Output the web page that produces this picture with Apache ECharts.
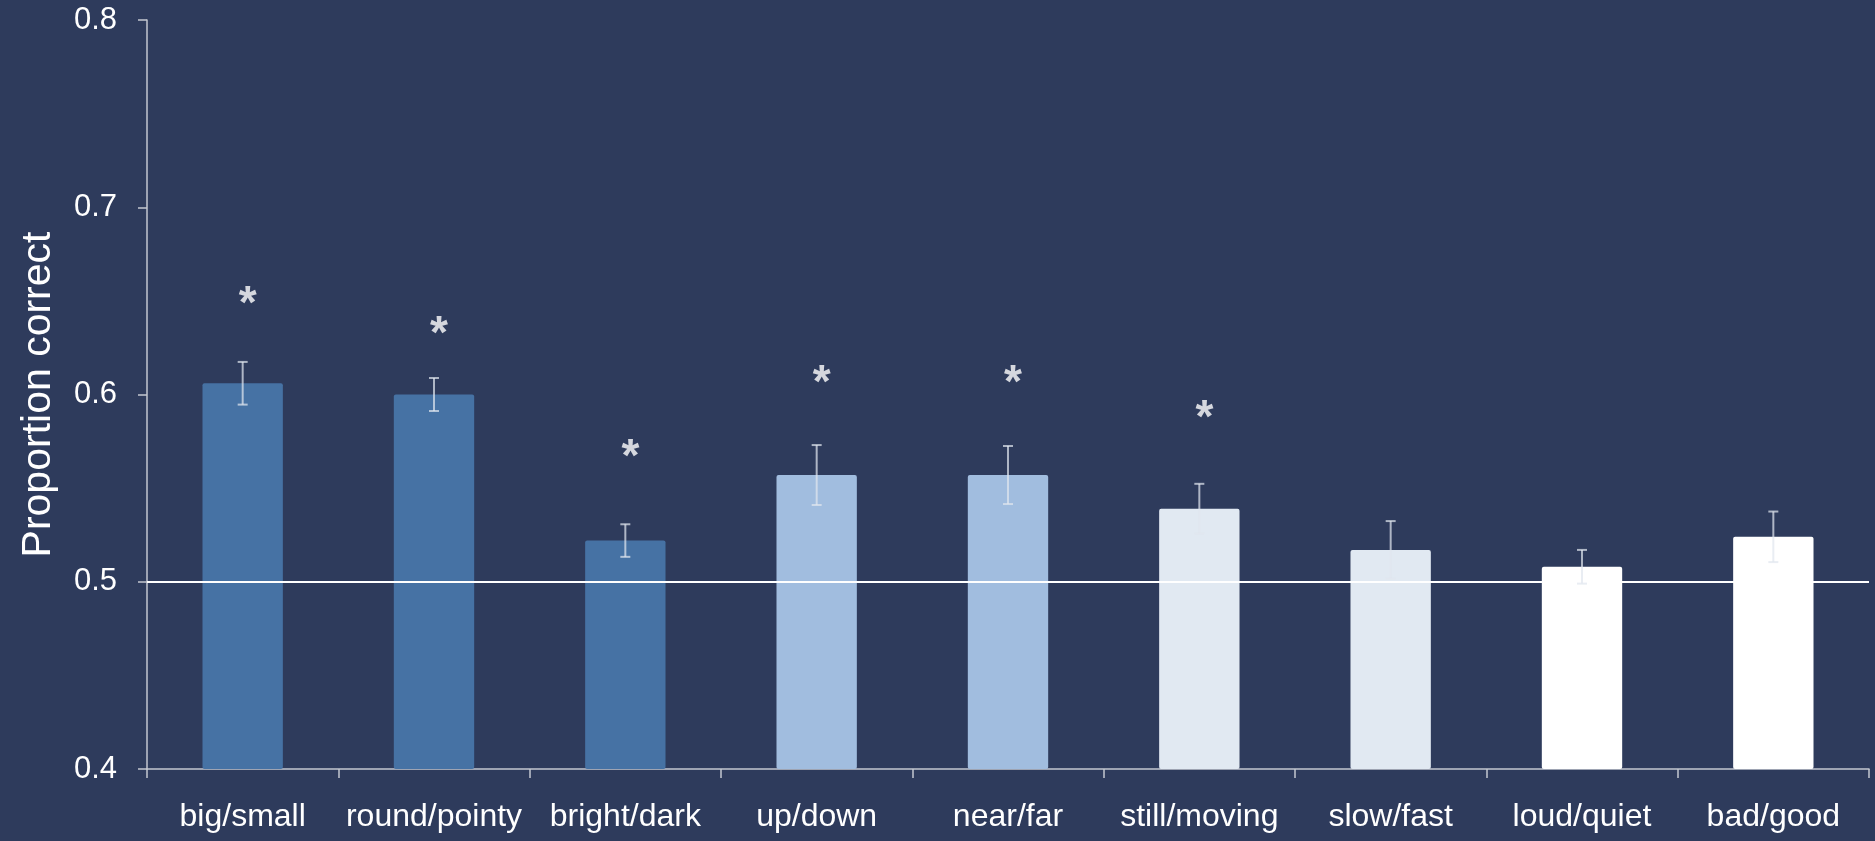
<!DOCTYPE html>
<html>
<head>
<meta charset="utf-8">
<title>Proportion correct by dimension pair</title>
<script src="https://cdn.jsdelivr.net/npm/echarts@6/dist/echarts.min.js"></script>
<style>
  html, body { margin: 0; padding: 0; background: #2E3B5C; }
  #chart { width: 1875px; height: 841px; }
</style>
</head>
<body>
<div id="chart"></div>
<script>
// Dimension pairs along the x axis
const categories = ['big/small', 'round/pointy', 'bright/dark', 'up/down', 'near/far',
                    'still/moving', 'slow/fast', 'loud/quiet', 'bad/good'];
// Mean proportion correct per pair
const means = [0.606, 0.600, 0.522, 0.557, 0.557, 0.539, 0.517, 0.508, 0.524];
// Standard error of each mean
const errors = [0.0114, 0.0088, 0.0087, 0.016, 0.0155, 0.0133, 0.0154, 0.009, 0.0135];
// Height of the significance star (null = not significant)
const starLevels = [0.653, 0.637, 0.571, 0.611, 0.611, 0.592, null, null, null];
// Fill colour per bar (grouped by modality)
const barColors = ['#4672A4', '#4672A4', '#4672A4', '#A1BDDF', '#A1BDDF',
                   '#E1E9F2', '#E1E9F2', '#FFFFFF', '#FFFFFF'];
// Value axis range and tick step
const yMin = 0.4, yMax = 0.8, yStep = 0.1;
const chanceLevel = 0.5;

const axisColor = '#C3C7D0';
const fontStack = 'Liberation Sans, Arial, sans-serif';
const chart = echarts.init(document.getElementById('chart'), null, { renderer: 'canvas' });

const option = {
  backgroundColor: '#2E3B5C',
  animation: false,
  grid: { left: 147, right: 6, top: 20, bottom: 72 },
  xAxis: {
    type: 'category',
    data: categories,
    axisLine: { lineStyle: { color: axisColor, width: 1.5 } },
    axisTick: { show: true, length: 9, lineStyle: { color: axisColor, width: 1.5 } },
    axisLabel: {
      color: '#FFFFFF', fontSize: 32, fontFamily: fontStack,
      margin: 32, interval: 0
    }
  },
  yAxis: {
    type: 'value',
    min: yMin, max: yMax, interval: yStep,
    name: 'Proportion correct',
    nameLocation: 'middle',
    nameGap: 88,
    nameTextStyle: { color: '#FFFFFF', fontSize: 41, fontFamily: fontStack },
    splitLine: { show: false },
    axisLine: { show: true, lineStyle: { color: axisColor, width: 1.5 } },
    axisTick: { show: true, length: 9, lineStyle: { color: axisColor, width: 1.5 } },
    axisLabel: {
      color: '#FFFFFF', fontSize: 31, fontFamily: fontStack,
      margin: 30, formatter: v => v.toFixed(1)
    }
  },
  series: [
    {
      type: 'bar',
      barWidth: '42%',
      data: means.map((v, i) => ({ value: v, itemStyle: { color: barColors[i] } })),
      itemStyle: { borderRadius: 2 },
      z: 2,
      markLine: {
        silent: true,
        symbol: 'none',
        label: { show: false },
        lineStyle: { color: '#FFFFFF', width: 2, type: 'solid' },
        data: [{ yAxis: chanceLevel }],
        z: 3
      }
    },
    {
      // Error bars: mean ± SE with small caps
      type: 'custom',
      z: 4,
      data: means.map((m, i) => [i, m - errors[i], m + errors[i]]),
      renderItem: function (params, api) {
        const x = api.value(0);
        const lo = api.coord([x, api.value(1)]);
        const hi = api.coord([x, api.value(2)]);
        const cap = 5;
        const style = { stroke: 'rgba(225,230,238,0.72)', lineWidth: 2 };
        return {
          type: 'group',
          children: [
            { type: 'line', shape: { x1: hi[0], y1: hi[1], x2: lo[0], y2: lo[1] }, style: style },
            { type: 'line', shape: { x1: hi[0] - cap, y1: hi[1], x2: hi[0] + cap, y2: hi[1] }, style: style },
            { type: 'line', shape: { x1: lo[0] - cap, y1: lo[1], x2: lo[0] + cap, y2: lo[1] }, style: style }
          ]
        };
      }
    },
    {
      // Significance stars
      type: 'scatter',
      symbolSize: 1,
      itemStyle: { color: 'rgba(0,0,0,0)' },
      z: 5,
      data: starLevels.map((v, i) => v === null ? null : [i, v]).filter(d => d !== null),
      label: {
        show: true,
        formatter: '*',
        position: 'inside',
        offset: [5, 10],
        color: '#FFFFFF',
        fontSize: 46,
        fontWeight: 'bold',
        fontFamily: fontStack
      }
    }
  ]
};

chart.setOption(option);
</script>
</body>
</html>
